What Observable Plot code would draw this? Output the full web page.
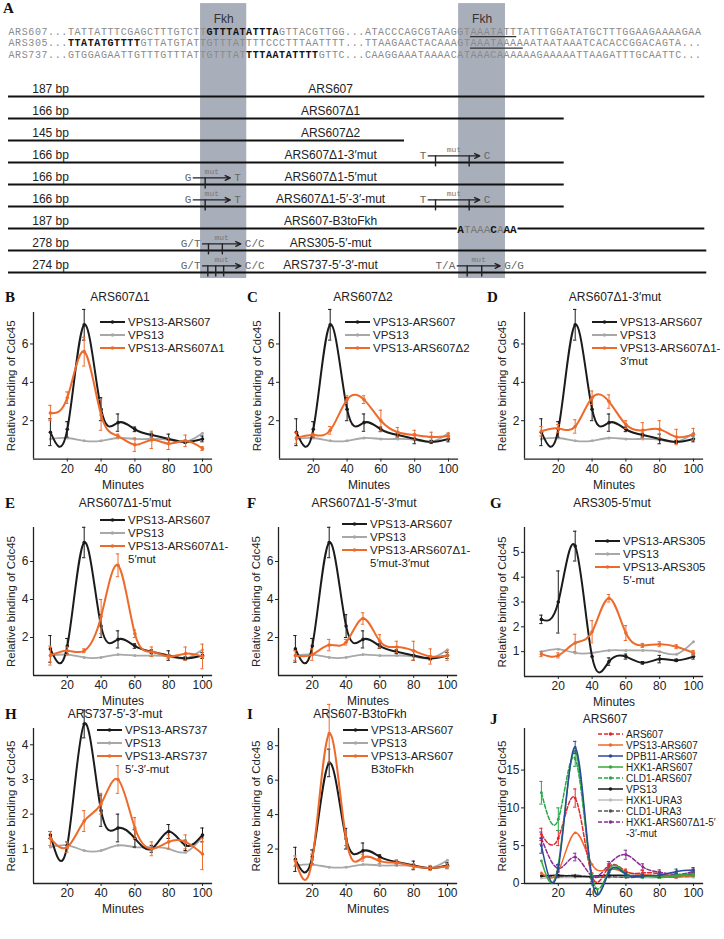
<!DOCTYPE html>
<html><head><meta charset="utf-8">
<script src="https://cdn.jsdelivr.net/npm/d3@7"></script>
<script src="https://cdn.jsdelivr.net/npm/@observablehq/plot@0.6"></script>
<style>
body{margin:0;background:#fff;font-family:"Liberation Sans",Arial,sans-serif;color:#222;}
#root{position:relative;width:724px;height:939px;overflow:hidden;background:#fff;}
.letter{position:absolute;font-family:"Liberation Serif",serif;font-weight:bold;font-size:15px;line-height:16px;color:#111;}
.title{position:absolute;font-size:12px;line-height:14px;white-space:nowrap;transform:translateX(-50%);color:#222;}
.legtxt{position:absolute;white-space:nowrap;color:#222;}
svg{overflow:visible;}
</style></head>
<body><div id="root"></div>
<script>
// ---------------- DATA ----------------
const minutes = [10,20,30,40,50,60,70,80,90,100];

// common series
const vps13      = [1.05,1.1,0.95,0.95,1.1,1.05,1.05,1.0,0.9,1.35];
const vps13Ars607    = [1.4,1.55,7.0,2.6,1.9,1.55,1.25,1.05,0.9,1.05];
const vps13Ars607Err = [0.7,0.4,0.8,0.6,0.45,0.12,0.1,0.25,0.08,0.15];

// B
const d1Vals = [2.4,3.2,5.6,2.3,1.2,0.75,1.0,0.8,0.95,0.55];
const d1Err  = [0.4,0.3,0.75,0.8,0.1,0.35,0.45,0.3,0.3,0.1];
// C
const d2Vals = [1.1,1.25,1.5,3.1,3.1,2.0,1.4,1.25,1.15,1.2];
const d2Err  = [0.3,0.1,0.2,0.2,0.2,0.55,0.25,0.25,0.25,0.15];
// D
const d13Vals = [1.45,1.6,1.7,3.2,3.0,1.8,1.5,1.55,1.15,1.3];
const d13Err  = [0.25,0.2,0.35,0.35,0.35,0.2,0.4,0.45,0.4,0.3];
// E
const d15Vals = [1.05,1.3,1.3,3.1,5.8,2.2,1.25,1.0,1.15,1.0];
const d15Err  = [0.5,0.2,0.1,0.9,0.6,0.2,0.25,0.1,0.35,0.65];
// F
const d153Vals = [1.05,1.1,1.6,1.75,3.0,1.8,1.5,1.3,1.0,1.05];
const d153Err  = [0.25,0.3,0.3,0.15,0.3,0.35,0.3,0.5,0.4,0.25];
// G
const ars305Vals = [2.3,3.0,5.25,0.8,0.6,0.8,0.55,0.7,0.65,0.8];
const ars305Err  = [0.17,1.25,0.6,0.0,0.15,0.1,0.05,0.15,0.05,0.1];
const vps13G     = [1.0,1.1,0.95,0.95,1.05,1.05,1.05,1.0,0.9,1.4];
const ars305mVals = [0.9,0.85,1.35,1.8,3.15,1.75,1.25,1.3,1.2,0.95];
const ars305mErr  = [0.1,0.1,0.35,0.45,0.15,0.3,0.08,0.1,0.08,0.1];
// H
const ars737Vals = [1.4,1.1,4.6,2.1,1.6,1.3,1.0,1.5,1.1,1.4];
const ars737Err  = [0.1,0.1,0.4,0.45,0.4,0.25,0.1,0.2,0.15,0.2];
const ars737mVals = [1.3,1.05,1.8,2.3,3.0,1.6,1.0,1.2,1.2,0.85];
const ars737mErr  = [0.2,0.15,0.3,0.3,0.4,0.3,0.2,0.2,0.2,0.45];
// I
const b3Vals = [1.3,1.4,8.7,2.6,1.5,1.3,1.2,1.0,0.9,1.0];
const b3Err  = [0.3,0.3,1.7,0.4,0.2,0.15,0.15,0.15,0.15,0.15];
// J
const jArs607    = [6.5,6.0,11.3,1.0,2.2,1.6,1.4,1.3,1.0,1.4];
const jArs607Err = [0.8,1.0,1.2,0.4,0.4,0.3,0.3,0.3,0.3,0.3];
const jVps13Ars607 = [1.4,1.6,6.7,2.5,1.9,1.5,1.2,1.0,0.9,1.05];
const jDpb11     = [5.0,2.0,18.0,0.5,1.5,1.2,1.0,1.1,1.6,1.8];
const jDpb11Err  = [1.0,0.5,0.8,0.3,0.3,0.2,0.2,0.3,0.3,0.3];
const jHxk1      = [3.0,2.5,17.5,0.3,1.8,1.3,1.0,0.8,1.0,1.1];
const jCld1      = [12.0,8.5,16.5,1.0,1.5,1.2,1.0,1.0,1.1,1.3];
const jCld1Err   = [1.5,1.5,1.0,0.3,0.3,0.3,0.3,0.3,0.3,0.3];
const jVps13     = [1.0,1.1,0.95,0.95,1.1,1.05,1.05,1.0,0.9,1.35];
const jHxk1Ura3  = [0.7,0.8,0.8,0.9,0.8,0.9,0.8,0.8,0.9,0.8];
const jCld1Ura3  = [1.0,0.9,1.1,0.8,0.9,0.8,0.9,1.0,0.9,1.0];
const jHxk1Mut   = [6.0,2.0,3.5,1.0,2.5,3.8,2.2,1.5,1.2,1.6];
const jHxk1MutErr= [0.8,0.4,0.5,0.3,0.4,0.6,0.4,0.3,0.3,0.3];

// Panel A data
const seqRowsA = [
  [["ARS607...TATTATTTCGAGCTTTGTCTT","n"],["GTTTATATTTA","b"],["GTTACGTTGG...ATACCCAGCGTAAGGT","n"],["AAATATT","u"],["TATTTGGATATGCTTTGGAAGAAAAGAA","n"]],
  [["ARS305...","n"],["TTATATGTTTT","b"],["GTTATGTATTGTTTATTTTCCCTTTAATTTT...TTAAGAACTACAAAGT","n"],["AAATAAAA","u"],["AATAATAAATCACACCGGACAGTA...","n"]],
  [["ARS737...GTGGAGAATTGTTTGTTTATTGTTTAT","n"],["TTTAATATTTT","b"],["GTTC...CAAGGAAATAAAACATAAACAAAAAAGAAAAATTAAGATTTGCAATTC...","n"]]
];
const fkhBands = [[29.1,36.1],[68.2,75.3]];
const constructNames = ["ARS607","ARS607Δ1","ARS607Δ2","ARS607Δ1-3′mut","ARS607Δ1-5′mut","ARS607Δ1-5′-3′-mut","ARS607-B3toFkh","ARS305-5′-mut","ARS737-5′-3′-mut"];
const constructLengths = ["187 bp","166 bp","145 bp","166 bp","166 bp","166 bp","187 bp","278 bp","274 bp"];
const constructEnds = [105.5,84.2,60,84.2,84.2,84.2,105.5,105.8,105.8];
const b3Gap = [68.0,77.2];
const b3Seq = [["A","b"],["TAAA","n"],["C","b"],["A","n"],["AA","b"]];
const mutations = [
  {row:3, from:"T",   to:"C",   x1:63.6, x2:71.4, ticks:[64.7,69.8]},
  {row:4, from:"G",   to:"T",   x1:28.0, x2:33.6, ticks:[29.8]},
  {row:5, from:"G",   to:"T",   x1:28.0, x2:33.6, ticks:[29.8]},
  {row:5, from:"T",   to:"C",   x1:63.6, x2:71.4, ticks:[64.7,69.8]},
  {row:7, from:"G/T", to:"C/C", x1:29.4, x2:35.2, ticks:[30.3,32.4]},
  {row:8, from:"G/T", to:"C/C", x1:29.4, x2:35.2, ticks:[30.2,31.4,32.6]},
  {row:8, from:"T/A", to:"G/G", x1:68.0, x2:74.5, ticks:[69.5,71.7]}
];

// colors
const BLACK="#1b1b1b", GRAY="#a8a8a8", ORANGE="#ee6a2a";

// ---------------- helpers ----------------
const root = document.getElementById("root");
function place(el,left,top){el.style.position="absolute";el.style.left=left+"px";el.style.top=top+"px";root.appendChild(el);return el;}
function div(cls,text,left,top,style){const d=document.createElement("div");d.className=cls;d.textContent=text;if(style)Object.assign(d.style,style);return place(d,left,top);}

// ---------------- Panel A ----------------
(function(){
  const charW=6.6, H=282;
  const seqY=[-2.955,-2.432,-1.909];
  const segsText=[], unders=[];
  seqRowsA.forEach((segs,r)=>{let i=0;for(const [s,st] of segs){if(st==="u")unders.push({x1:i,x2:i+s.length,y:seqY[r]});segsText.push({x:i,y:seqY[r],s,st});i+=s.length;}});
  const b3Text=[];{let i=b3Gap[0];for(const [s,st] of b3Seq){b3Text.push({x:i,s,st});i+=s.length;}}
  const segs=[];
  constructEnds.forEach((e,r)=>{ if(r===6){segs.push({row:r,x1:0,x2:b3Gap[0]});segs.push({row:r,x1:b3Gap[1],x2:e});} else segs.push({row:r,x1:0,x2:e}); });
  const rows=constructNames.map((n,i)=>({row:i,name:n,bp:constructLengths[i]}));
  const ticks=mutations.flatMap(m=>m.ticks.map(t=>({x:t,row:m.row})));
  const yDom=[-96/22,(H-96)/22];
  const mono="Liberation Mono, DejaVu Sans Mono, monospace";
  const chart=Plot.plot({
    width:724,height:H,marginLeft:0,marginRight:0,marginTop:0,marginBottom:0,
    x:{domain:[0,105],range:[8,8+105*charW],axis:null},
    y:{domain:yDom,range:[0,H],axis:null},
    style:{fontFamily:"Liberation Sans, Arial, sans-serif",fontSize:"12px",color:"#222",background:"transparent"},
    marks:[
      Plot.rect(fkhBands,{x1:d=>d[0],x2:d=>d[1],y1:yDom[0]+0.14,y2:yDom[1]-0.18,fill:"#a9afba"}),
      Plot.text(fkhBands,{x:d=>(d[0]+d[1])/2,y:-3.5,text:()=>"Fkh",fontSize:12,fill:"#333"}),
      Plot.text(segsText.filter(d=>d.st!=="b"),{x:"x",y:"y",text:"s",textAnchor:"start",fontFamily:mono,fontSize:10,fill:"#8a8a8a"}),
      Plot.text(segsText.filter(d=>d.st==="b"),{x:"x",y:"y",text:"s",textAnchor:"start",fontFamily:mono,fontSize:10,fontWeight:"bold",fill:"#111"}),
      Plot.ruleY(unders,{y:d=>d.y+0.23,x1:"x1",x2:"x2",stroke:"#333",strokeWidth:1.2}),
      Plot.ruleY(segs,{y:"row",x1:"x1",x2:"x2",stroke:"#111",strokeWidth:2}),
      Plot.text(rows,{x:3.6,y:d=>d.row-0.33,text:"bp",textAnchor:"start",fill:"#222"}),
      Plot.text(rows,{x:48.8,y:d=>d.row-0.33,text:"name",fill:"#222"}),
      Plot.text(b3Text.filter(d=>d.st!=="b"),{x:"x",y:6.05,text:"s",textAnchor:"start",fontFamily:mono,fontSize:11,fill:"#777"}),
      Plot.text(b3Text.filter(d=>d.st==="b"),{x:"x",y:6.05,text:"s",textAnchor:"start",fontFamily:mono,fontSize:11,fontWeight:"bold",fill:"#111"}),
      Plot.arrow(mutations,{x1:"x1",x2:"x2",y1:d=>d.row-0.3,y2:d=>d.row-0.3,stroke:"#222",strokeWidth:1.4,headLength:6,headAngle:50}),
      Plot.ruleX(ticks,{x:"x",y1:d=>d.row-0.3,y2:d=>d.row+0.2,stroke:"#222",strokeWidth:1.4}),
      Plot.text(mutations,{x:d=>d.x1-0.3,y:d=>d.row-0.3,text:"from",textAnchor:"end",fontFamily:mono,fontSize:11,fill:"#666"}),
      Plot.text(mutations,{x:d=>d.x2+0.6,y:d=>d.row-0.3,text:"to",textAnchor:"start",fontFamily:mono,fontSize:11,fill:"#666"}),
      Plot.text(mutations,{x:d=>(d.x1+d.x2)/2,y:d=>d.row-0.6,text:()=>"mut",fontFamily:mono,fontSize:8,fill:"#777"})
    ]
  });
  // widen the 10px monospace sequence text so each character spans one x unit (6.6 px)
  d3.select(chart).selectAll("g").filter(function(){return (this.getAttribute("font-family")||"").includes("Mono")&&this.getAttribute("font-size")==="10";}).style("letter-spacing","0.6px");
  place(chart,0,0);
  div("letter","A",3,0);
})();

// ---------------- line panels ----------------
const PXMIN=1.69;
function series(values,color,err,opts={}){return Object.assign({values,color,err},opts);}
const panels=[
  {L:"B",title:"ARS607Δ1",tx:120,ty:297,lx:5,ax:33,top:312,zero:458.6,yMax:7.64,yTicks:[2,4,6],
   series:[series(vps13,GRAY,null,{sw:1.8,r:1.5}),series(vps13Ars607,BLACK,vps13Ars607Err),series(d1Vals,ORANGE,d1Err)],
   leg:{x:100,y:322,items:[{c:BLACK,t:["VPS13-ARS607"]},{c:GRAY,t:["VPS13"]},{c:ORANGE,t:["VPS13-ARS607Δ1"]}]}},
  {L:"C",title:"ARS607Δ2",tx:363,ty:297,lx:247,ax:279,top:312,zero:458.6,yMax:7.64,yTicks:[2,4,6],
   series:[series(vps13,GRAY,null,{sw:1.8,r:1.5}),series(vps13Ars607,BLACK,vps13Ars607Err),series(d2Vals,ORANGE,d2Err)],
   leg:{x:345,y:322,items:[{c:BLACK,t:["VPS13-ARS607"]},{c:GRAY,t:["VPS13"]},{c:ORANGE,t:["VPS13-ARS607Δ2"]}]}},
  {L:"D",title:"ARS607Δ1-3′mut",tx:615,ty:297,lx:487,ax:524,top:312,zero:458.6,yMax:7.64,yTicks:[2,4,6],
   series:[series(vps13,GRAY,null,{sw:1.8,r:1.5}),series(vps13Ars607,BLACK,vps13Ars607Err),series(d13Vals,ORANGE,d13Err)],
   leg:{x:592,y:322,items:[{c:BLACK,t:["VPS13-ARS607"]},{c:GRAY,t:["VPS13"]},{c:ORANGE,t:["VPS13-ARS607Δ1-","3′mut"]}]}},
  {L:"E",title:"ARS607Δ1-5′mut",tx:125,ty:503,lx:5,ax:33,top:527,zero:675,yMax:7.79,yTicks:[2,4,6],
   series:[series(vps13,GRAY,null,{sw:1.8,r:1.5}),series(vps13Ars607,BLACK,vps13Ars607Err),series(d15Vals,ORANGE,d15Err)],
   leg:{x:100,y:520,items:[{c:BLACK,t:["VPS13-ARS607"]},{c:GRAY,t:["VPS13"]},{c:ORANGE,t:["VPS13-ARS607Δ1-","5′mut"]}]}},
  {L:"F",title:"ARS607Δ1-5′-3′mut",tx:364,ty:503,lx:247,ax:278,top:527,zero:675,yMax:7.79,yTicks:[2,4,6],
   series:[series(vps13,GRAY,null,{sw:1.8,r:1.5}),series(vps13Ars607,BLACK,vps13Ars607Err),series(d153Vals,ORANGE,d153Err)],
   leg:{x:342,y:524,items:[{c:BLACK,t:["VPS13-ARS607"]},{c:GRAY,t:["VPS13"]},{c:ORANGE,t:["VPS13-ARS607Δ1-","5′mut-3′mut"]}]}},
  {L:"G",title:"ARS305-5′mut",tx:612,ty:503,lx:490,ax:524,top:527,zero:676,yMax:6.0,yTicks:[1,2,3,4,5],
   series:[series(vps13G,GRAY,null,{sw:1.8,r:1.5}),series(ars305Vals,BLACK,ars305Err),series(ars305mVals,ORANGE,ars305mErr)],
   leg:{x:595,y:541,items:[{c:BLACK,t:["VPS13-ARS305"]},{c:GRAY,t:["VPS13"]},{c:ORANGE,t:["VPS13-ARS305","5′-mut"]}]}},
  {L:"H",title:"ARS737-5′-3′-mut",tx:115,ty:714,lx:5,ax:33,top:728,zero:883,yMax:4.47,yTicks:[1,2,3,4],
   series:[series(vps13,GRAY,null,{sw:1.8,r:1.5}),series(ars737Vals,BLACK,ars737Err),series(ars737mVals,ORANGE,ars737mErr)],
   leg:{x:97,y:730,items:[{c:BLACK,t:["VPS13-ARS737"]},{c:GRAY,t:["VPS13"]},{c:ORANGE,t:["VPS13-ARS737","5′-3′-mut"]}]}},
  {L:"I",title:"ARS607-B3toFkh",tx:360,ty:714,lx:247,ax:278,top:728,zero:883,yMax:9.0,yTicks:[2,4,6,8],
   series:[series(vps13,GRAY,null,{sw:1.8,r:1.5}),series(vps13Ars607,BLACK,vps13Ars607Err),series(b3Vals,ORANGE,b3Err)],
   leg:{x:343,y:730,items:[{c:BLACK,t:["VPS13-ARS607"]},{c:GRAY,t:["VPS13"]},{c:ORANGE,t:["VPS13-ARS607","B3toFkh"]}]}},
  {L:"J",title:"ARS607",tx:605,ty:719,lx:490,ax:524,top:728,zero:883,yMax:20.5,yTicks:[0,5,10,15],
   series:[
     series(jHxk1Ura3,"#bdbdbd",null,{sw:1.5,r:1.4}),
     series(jCld1Ura3,"#555555",null,{sw:1.5,r:1.4,dash:"4,2"}),
     series(jVps13,BLACK,null,{sw:1.5,r:1.4}),
     series(jHxk1Mut,"#8b2c96",jHxk1MutErr,{sw:1.5,r:1.4,dash:"4,2"}),
     series(jVps13Ars607,ORANGE,null,{sw:1.5,r:1.4}),
     series(jArs607,"#e3262a",jArs607Err,{sw:1.5,r:1.4,dash:"4,2"}),
     series(jCld1,"#27a64a",jCld1Err,{sw:1.5,r:1.4,dash:"4,2"}),
     series(jHxk1,"#3aa83a",null,{sw:1.5,r:1.4}),
     series(jDpb11,"#2c4a9a",jDpb11Err,{sw:1.5,r:1.4})
   ],
   leg:{x:598,y:734,dy:11,fs:10,items:[
     {c:"#e3262a",d:"4,2",t:["ARS607"]},{c:ORANGE,t:["VPS13-ARS607"]},{c:"#2c4a9a",t:["DPB11-ARS607"]},
     {c:"#3aa83a",t:["HXK1-ARS607"]},{c:"#27a64a",d:"4,2",t:["CLD1-ARS607"]},{c:BLACK,t:["VPS13"]},
     {c:"#bdbdbd",t:["HXK1-URA3"]},{c:"#555555",d:"4,2",t:["CLD1-URA3"]},{c:"#8b2c96",d:"4,2",t:["HXK1-ARS607Δ1-5′","-3′-mut"]}]}}
];

function drawPanel(p){
  const mL=30,mR=25,mT=6,mB=40;
  const frameH=p.zero-p.top, frameW=106*PXMIN;
  const fmt=d=>String(d);
  const marks=[
    Plot.axisX({ticks:[20,40,60,80,100],tickSize:3,tickPadding:2,label:null,tickFormat:fmt}),
    Plot.axisY({ticks:p.yTicks,tickSize:3,tickPadding:2,label:null,tickFormat:fmt}),
    Plot.ruleY([0],{stroke:"#222",strokeWidth:1.3}),
    Plot.ruleX([0],{stroke:"#222",strokeWidth:1.3})
  ];
  for(const s of p.series){
    const rows=minutes.map((m,i)=>({x:m,y:s.values[i],lo:s.err?s.values[i]-s.err[i]:null,hi:s.err?s.values[i]+s.err[i]:null}));
    marks.push(Plot.line(rows,{x:"x",y:"y",stroke:s.color,strokeWidth:s.sw??2,curve:"natural",strokeDasharray:s.dash}));
    if(s.err){
      const eb=rows.filter(d=>d.hi>d.lo);
      marks.push(Plot.ruleX(eb,{x:"x",y1:"lo",y2:"hi",stroke:s.color,strokeWidth:1}));
      marks.push(Plot.ruleY(eb,{y:"hi",x1:d=>d.x-1,x2:d=>d.x+1,stroke:s.color,strokeWidth:1}));
      marks.push(Plot.ruleY(eb,{y:"lo",x1:d=>d.x-1,x2:d=>d.x+1,stroke:s.color,strokeWidth:1}));
    }
    marks.push(Plot.dot(rows,{x:"x",y:"y",r:s.r??1.8,fill:s.color}));
  }
  marks.push(Plot.text(["Minutes"],{text:d=>d,frameAnchor:"bottom",textAnchor:"middle",lineAnchor:"middle",dy:26,fontSize:12,fill:"#222"}));
  marks.push(Plot.text(["Relative binding of Cdc45"],{text:d=>d,frameAnchor:"left",textAnchor:"middle",lineAnchor:"middle",dx:-22,rotate:-90,fontSize:11.5,fill:"#222"}));
  const chart=Plot.plot({
    width:mL+frameW+mR,height:mT+frameH+mB,marginLeft:mL,marginRight:mR,marginTop:mT,marginBottom:mB,
    x:{domain:[0,106]},y:{domain:[0,p.yMax]},
    style:{fontFamily:"Liberation Sans, Arial, sans-serif",fontSize:"12px",color:"#222",background:"transparent",overflow:"visible"},
    marks
  });
  place(chart,p.ax-mL,p.top-mT);
  div("letter",p.L,p.lx,p.ty-8);
  div("title",p.title,p.tx,p.ty-7);
  // legend
  const lg=p.leg, dy=lg.dy??13, fs=lg.fs??11.5;
  let k=0;
  for(const it of lg.items){
    const yc=lg.y+k*dy;
    const ns="http://www.w3.org/2000/svg";
    const sv=document.createElementNS(ns,"svg");
    sv.setAttribute("width","26");sv.setAttribute("height","8");
    sv.innerHTML=`<line x1="0" y1="4" x2="25" y2="4" stroke="${it.c}" stroke-width="${fs<11?1.5:2}" ${it.d?`stroke-dasharray="${it.d}"`:""}/><circle cx="12.5" cy="4" r="1.8" fill="${it.c}"/>`;
    sv.style.position="absolute";sv.style.left=lg.x+"px";sv.style.top=(yc-4)+"px";root.appendChild(sv);
    for(const line of it.t){
      div("legtxt",line,lg.x+28,lg.y+k*dy-dy/2,{fontSize:fs+"px",lineHeight:dy+"px"});
      k++;
    }
  }
}
panels.forEach(drawPanel);
</script>
</body></html>
